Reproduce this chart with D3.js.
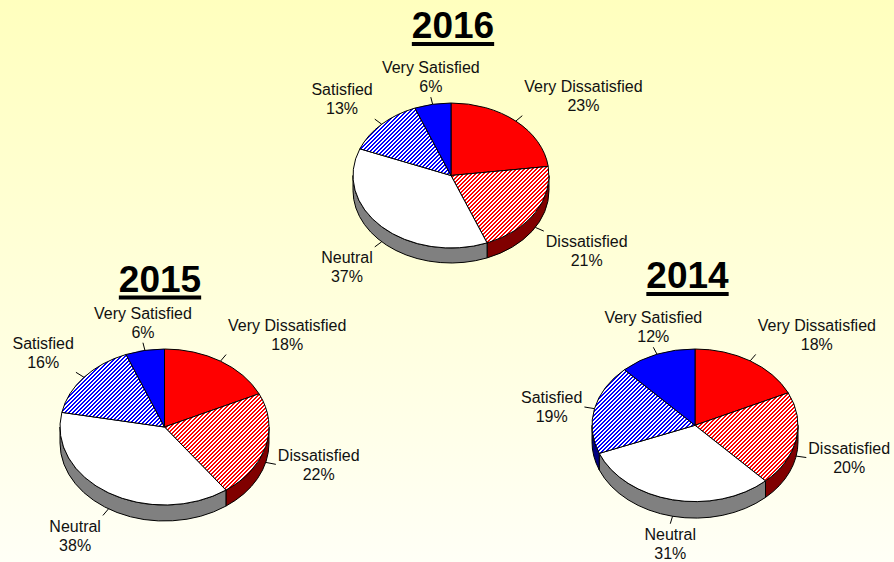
<!DOCTYPE html>
<html><head><meta charset="utf-8">
<script src="https://cdn.jsdelivr.net/npm/d3@7"></script>
<style>html,body{margin:0;padding:0;overflow:hidden;}svg{display:block;}</style>
</head><body>
<svg id="chart" width="894" height="562"></svg>
<script>
const categories = ["Very Dissatisfied", "Dissatisfied", "Neutral", "Satisfied", "Very Satisfied"];
const years = ["2016", "2015", "2014"];
const values2016 = [23, 21, 37, 13, 6];
const values2015 = [18, 22, 38, 16, 6];
const values2014 = [18, 20, 31, 19, 12];
const seriesValues = [values2016, values2015, values2014];

// layout (positions / sizes)
const layout = [
  {cx: 451, cy: 175.5, rx: 98, ry: 72.5, depth: 15, tx: 453, ty: 38},
  {cx: 164.5, cy: 427, rx: 104.5, ry: 78, depth: 16, tx: 160, ty: 291.5},
  {cx: 695, cy: 425.3, rx: 103, ry: 76.3, depth: 16.5, tx: 687.5, ty: 288}
];
const topFill = ["#FF0000", "url(#hatchRed)", "#FFFFFF", "url(#hatchBlue)", "#0000FF"];
const sideFill = ["#800000", "#800000", "#808080", "#000080", "#000080"];

const svg = d3.select("#chart");
const defs = svg.append("defs");
const grad = defs.append("linearGradient").attr("id", "bg").attr("x1", 0).attr("y1", 0).attr("x2", 0).attr("y2", 1);
grad.append("stop").attr("offset", "0%").attr("stop-color", "#FFFFBE");
grad.append("stop").attr("offset", "100%").attr("stop-color", "#FFFFF6");
svg.append("rect").attr("width", 894).attr("height", 562).attr("fill", "url(#bg)");

function hatch(id, color) {
  const p = defs.append("pattern").attr("id", id).attr("patternUnits", "userSpaceOnUse")
    .attr("width", 4).attr("height", 4);
  p.append("rect").attr("width", 4).attr("height", 4).attr("fill", "#FFFFFF");
  for (let x = 0; x < 4; x++) for (let y = 0; y < 4; y++) {
    if ((x + y) % 4 < 2) p.append("rect").attr("x", x).attr("y", y).attr("width", 1).attr("height", 1).attr("fill", color);
  }
}
hatch("hatchRed", "#FF0000");
hatch("hatchBlue", "#0000FF");

const pie = d3.pie().sort(null).startAngle(0).endAngle(2 * Math.PI);

years.forEach((yr, i) => {
  const L = layout[i];
  const vals = seriesValues[i];
  const arcs = pie(vals);
  const g = svg.append("g");
  const P = (a, r = 1, dy = 0) => [L.cx + r * L.rx * Math.sin(a), L.cy - r * L.ry * Math.cos(a) + dy];

  // side walls (front half: PI/2 .. 3PI/2)
  arcs.forEach((d, k) => {
    const s = Math.max(d.startAngle, Math.PI / 2), e = Math.min(d.endAngle, 3 * Math.PI / 2);
    if (e <= s) return;
    const p1 = P(s), p2 = P(e), p3 = P(e, 1, L.depth), p4 = P(s, 1, L.depth);
    const path = `M${p1}A${L.rx},${L.ry} 0 0 1 ${p2}L${p3}A${L.rx},${L.ry} 0 0 0 ${p4}Z`;
    g.append("path").attr("d", path).attr("fill", sideFill[k]).attr("stroke", "#000").attr("stroke-width", 1).attr("stroke-linejoin", "round");
  });
  // top faces
  arcs.forEach((d, k) => {
    const p1 = P(d.startAngle), p2 = P(d.endAngle);
    const large = (d.endAngle - d.startAngle) > Math.PI ? 1 : 0;
    const path = `M${L.cx},${L.cy}L${p1}A${L.rx},${L.ry} 0 ${large} 1 ${p2}Z`;
    g.append("path").attr("d", path).attr("fill", topFill[k]).attr("stroke", "#000").attr("stroke-width", 1).attr("stroke-linejoin", "round");
  });
  // labels and leaders
  arcs.forEach((d, k) => {
    const a = (d.startAngle + d.endAngle) / 2;
    const sn = Math.sin(a), cs = Math.cos(a);
    const dep = cs < 0 ? L.depth : 0;
    const l1 = P(a, 1, dep), l2 = P(a, 1.1, dep);
    g.append("line").attr("x1", l1[0]).attr("y1", l1[1]).attr("x2", l2[0]).attr("y2", l2[1])
      .attr("stroke", "#000").attr("stroke-width", 1);
    const t = g.append("text").attr("font-family", "Liberation Sans, Arial, sans-serif")
      .attr("font-size", 16).attr("fill", "#111").attr("text-anchor", "middle");
    const s1 = t.append("tspan").text(categories[k]);
    const pct = Math.round(d.data / d3.sum(vals) * 100) + "%";
    const s2 = t.append("tspan").text(pct);
    const w = Math.max(s1.node().getComputedTextLength(), s2.node().getComputedTextLength());
    const h = 38;
    const fx = Math.abs(sn) > 0.45 ? Math.sign(sn) : 0;
    const fy = Math.abs(cs) > 0.45 ? Math.sign(cs) : 0;
    const x = l2[0] + fx * (w / 2 + 2);
    const y = l2[1] - fy * (h / 2 + 1);
    s1.attr("x", x).attr("y", y - 9.5 + 5.7);
    s2.attr("x", x).attr("y", y + 9.5 + 5.7);
  });
  // title
  const tt = svg.append("text").attr("x", L.tx).attr("y", L.ty).attr("text-anchor", "middle")
    .attr("font-family", "Liberation Sans, Arial, sans-serif").attr("font-weight", "bold")
    .attr("font-size", 37).attr("fill", "#000").text(yr);
  const tw = tt.node().getComputedTextLength();
  svg.append("rect").attr("x", L.tx - tw / 2).attr("y", L.ty + 4).attr("width", tw).attr("height", 4).attr("fill", "#000");
});
</script>
</body></html>
